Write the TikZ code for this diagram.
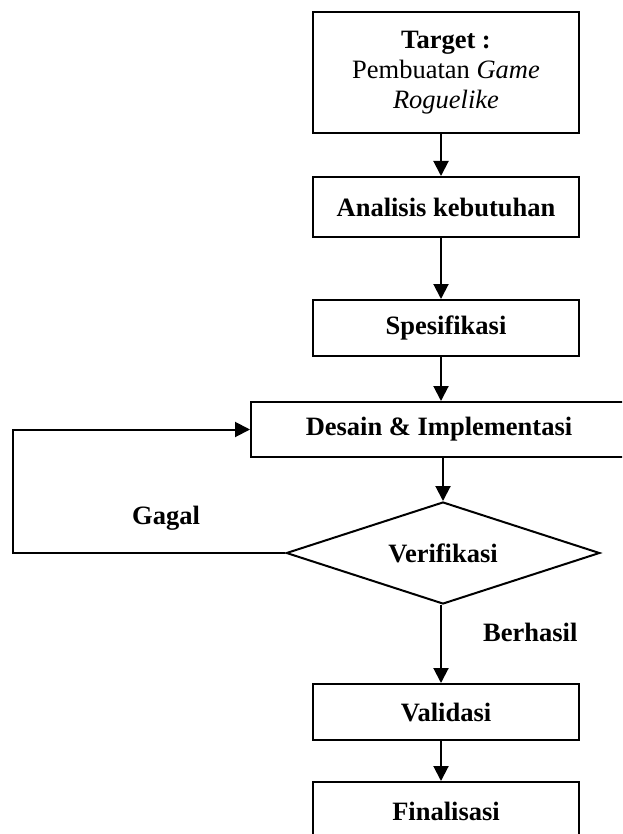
\documentclass[tikz,border=0pt]{standalone}
\usepackage{fontspec}
\setmainfont{Liberation Serif}
\usetikzlibrary{arrows.meta,shapes.geometric}
\begin{document}
\begin{tikzpicture}[x=1pt,y=-1pt,
  base/.style={draw,line width=2pt,inner sep=0pt,align=center,font=\fontsize{26.5}{30}\selectfont},
  box/.style={base,minimum width=266pt,font=\fontsize{26.5}{30}\selectfont\bfseries},
  arr/.style={-{Triangle[width=15pt,length=15pt]},line width=2pt},
  lbl/.style={inner sep=0pt,font=\fontsize{26.5}{30}\selectfont\bfseries}]
\useasboundingbox (0,0) rectangle (622,834);
\begin{scope}
\clip (0,0) rectangle (622,834);
\node[base,minimum width=266pt,minimum height=121pt] (t) at (446,72.5)
  {\textbf{Target :}\\Pembuatan \textit{Game}\\\textit{Roguelike}};
\node[box,minimum height=60pt] (a) at (446,207) {Analisis kebutuhan};
\node[box,minimum height=56pt] (s) at (446,328) {Spesifikasi};
\node[box,minimum width=376pt,minimum height=55pt] (d) at (439,429.5) {Desain \& Implementasi};
\node[base,diamond,aspect=3,minimum width=313.5pt,minimum height=102pt,font=\fontsize{26.5}{30}\selectfont\bfseries] (v) at (443,553) {Verifikasi};
\node[box,minimum height=56pt] (val) at (446,712) {Validasi};
\node[box,minimum height=58pt] (f) at (446,811) {Finalisasi};
\coordinate (lp) at (13,553);
\draw[arr] ([xshift=-5pt]t.south) -- ([xshift=-5pt]a.north);
\draw[arr] ([xshift=-5pt]a.south) -- ([xshift=-5pt]s.north);
\draw[arr] ([xshift=-5pt]s.south) -- ([xshift=-5pt]s.south |- d.north);
\draw[arr] (v.north |- d.south) -- (v.north);
\draw[arr] ([xshift=-2pt]v.south) -- ([xshift=-5pt]val.north);
\draw[arr] ([xshift=-5pt]val.south) -- ([xshift=-5pt]f.north);
\draw[arr] (v.west) -- (lp) |- (d.west);
\node[lbl,anchor=base] (g) at (166,524) {Gagal};
\node[lbl,anchor=base west] (b) at (483,641) {Berhasil};
\end{scope}
\end{tikzpicture}
\end{document}
